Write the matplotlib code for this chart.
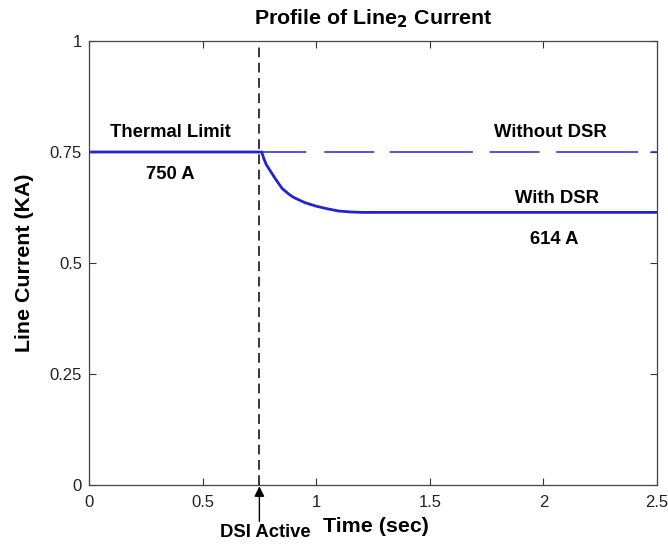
import matplotlib
matplotlib.use("Agg")
import matplotlib.pyplot as plt

plt.rcParams['font.family'] = ['Liberation Sans', 'DejaVu Sans']
plt.rcParams['lines.scale_dashes'] = False

# Line current with the DSR deployed (kA)
t_with = [0.0, 0.76, 0.77, 0.78, 0.80, 0.82, 0.85, 0.88, 0.90, 0.95,
          1.00, 1.05, 1.10, 1.15, 1.20, 2.50]
i_with = [0.750, 0.750, 0.735, 0.722, 0.706, 0.690, 0.668, 0.655, 0.648, 0.636,
          0.628, 0.622, 0.617, 0.615, 0.614, 0.614]

# Line current without the DSR (kA)
t_without = [0.75, 2.50]
i_without = [0.750, 0.750]

t_dsi = 0.75
x_ticks = [0, 0.5, 1, 1.5, 2, 2.5]
x_tick_labels = ['0', '0.5', '1', '1.5', '2', '2.5']
y_ticks = [0, 0.25, 0.5, 0.75, 1]
y_tick_labels = ['0', '0.25', '0.5', '0.75', '1']

blue = '#2222d8'

fig = plt.figure(figsize=(6.68, 5.44), dpi=100)
ax = fig.add_axes([0.1332, 0.1085, 0.8503, 0.8161])

ax.plot(t_without, i_without, color=blue, lw=1.1,
        linestyle=(0, (34, 13, 36, 11, 60, 12, 36, 12, 59, 9)))
ax.plot(t_with, i_with, color=blue, lw=2.0)
ax.axvline(t_dsi, color='black', lw=1.1, linestyle=(0, (7, 4)))

ax.set_xlim(0, 2.5)
ax.set_ylim(0, 1)
ax.set_xticks(x_ticks)
ax.set_xticklabels(x_tick_labels)
ax.set_yticks(y_ticks)
ax.set_yticklabels(y_tick_labels)
ax.tick_params(direction='in', top=True, right=True, length=5, width=0.8,
               labelsize=12, colors='#333333', labelcolor='#222222')
ax.tick_params(axis='x', pad=7)
ax.tick_params(axis='y', pad=5)
for s in ax.spines.values():
    s.set_color('#444444')
    s.set_linewidth(0.9)

ax.set_title('Profile of Line$_{\\mathbf{2}}$ Current', fontsize=15.4, fontweight='bold', pad=12)
ax.set_ylabel('Line Current (KA)', fontsize=15.4, fontweight='bold', labelpad=11)
ax.set_xlabel('Time (sec)', fontsize=15.4, fontweight='bold')
ax.xaxis.set_label_coords(0.505, -0.073)

fs = 13.3
ax.text(0.36, 0.795, 'Thermal Limit', fontsize=fs, fontweight='bold', ha='center', va='center')
ax.text(0.36, 0.70, '750 A', fontsize=fs, fontweight='bold', ha='center', va='center')
ax.text(2.03, 0.795, 'Without DSR', fontsize=fs, fontweight='bold', ha='center', va='center')
ax.text(2.06, 0.646, 'With DSR', fontsize=fs, fontweight='bold', ha='center', va='center')
ax.text(2.05, 0.552, '614 A', fontsize=fs, fontweight='bold', ha='center', va='center')

# Marker for the instant the DSI switches in
ax.annotate('', xy=(t_dsi, -0.003), xycoords='data',
            xytext=(t_dsi, -0.082), textcoords='data',
            annotation_clip=False,
            arrowprops=dict(arrowstyle='-|>', color='black', lw=1.0,
                            mutation_scale=15, shrinkA=0, shrinkB=0))
ax.text(t_dsi + 0.025, -0.107, 'DSI Active', fontsize=fs, fontweight='bold',
        ha='center', va='center', clip_on=False)

fig.savefig('out.png', dpi=100)
